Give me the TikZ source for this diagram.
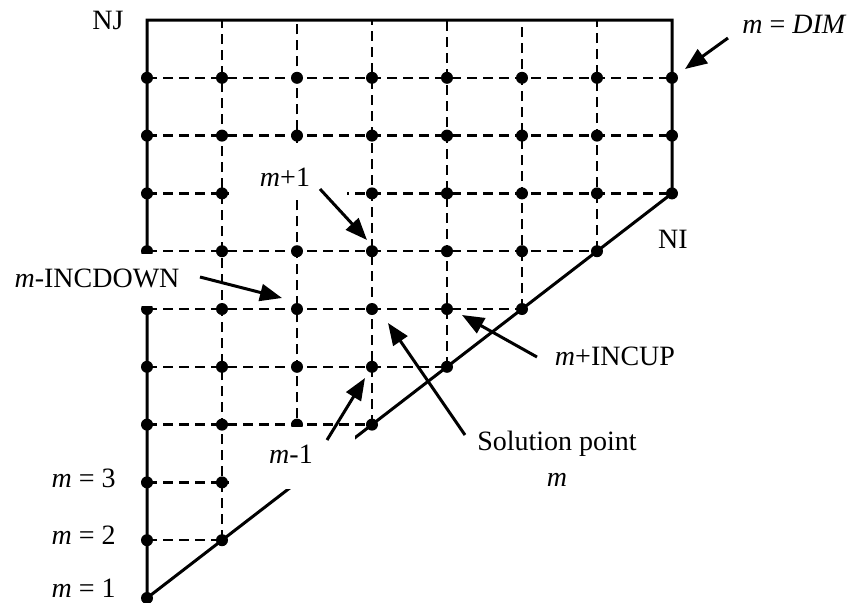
\documentclass[tikz,border=0pt]{standalone}
\usepackage{fontspec}
\setmainfont{Liberation Serif}
\usetikzlibrary{arrows.meta}

\begin{document}
\begin{tikzpicture}[
  x=0.5pt, y=-0.5pt,
  edge/.style={line width=1.5pt},
  gridline/.style={line width=1.2pt,dash pattern=on 5pt off 3pt},
  dot/.style={circle,fill,inner sep=0pt,minimum size=6pt},
  mask/.style={fill=white},
  ar/.style={-{Triangle[length=11pt,width=8.5pt]},line width=1.5pt},
  lbl/.style={font=\fontsize{14}{18}\selectfont,inner sep=1pt},
]
\useasboundingbox (0,0) rectangle (848,602);

% grid points: column i, row j (row 0 at the bottom)
\foreach \i in {0,...,7}
  \foreach \j in {0,...,10}
    \coordinate (g-\i-\j) at ({147+75*\i},{598-57.8*\j});

% dashed grid
\foreach \j in {1,...,9} {
  \pgfmathtruncatemacro{\k}{min(\j,7)}
  \draw[gridline] (g-0-\j) -- (g-\k-\j);
}
\foreach \i in {1,...,6}
  \draw[gridline] (g-\i-\i) -- (g-\i-10);

% boundary
\draw[edge] (g-0-0) -- (g-0-10) -- (g-7-10) -- (g-7-7) -- cycle;

% solution points
\foreach \j in {0,...,9} {
  \pgfmathtruncatemacro{\k}{min(\j,7)}
  \foreach \i in {0,...,\k}
    \node[dot] (d-\i-\j) at (g-\i-\j) {};
}

% white boxes behind the labels
\fill[mask] (229,143) rectangle (347,200);
\fill[mask] (10,254) rectangle (205,306);
\fill[mask] (229,427) rectangle (355,489);

% labels
\node[lbl] (nj) at (108,20) {NJ};
\node[lbl] (ni) at (673,239) {NI};
\node[lbl,anchor=west] (ldim) at (740,24) {\textit{m} = \textit{DIM}};
\node[lbl] (lp1) at (285,177) {\textit{m}+1};
\node[lbl] (lm1) at (291,454) {\textit{m}-1};
\node[lbl] (ldown) at (97,278) {\textit{m}-INCDOWN};
\node[lbl] (lup) at (615,356) {\textit{m}+INCUP};
\node[lbl,align=center] (lsol) at (557,459) {Solution point\\\textit{m}};
\node[lbl,anchor=east] (lm3) at (118,478) {\textit{m} = 3};
\node[lbl,anchor=east] (lm2) at (118,535) {\textit{m} = 2};
\node[lbl,anchor=east] (lm1b) at (118,588) {\textit{m} = 1};

% arrows
\coordinate (t-dim) at (728,38);   \coordinate (h-dim) at (685,69);
\coordinate (t-p1) at (320,189);   \coordinate (h-p1) at (367,240);
\coordinate (t-down) at (200,277); \coordinate (h-down) at (282,298);
\coordinate (t-up) at (537,357);   \coordinate (h-up) at (462,315);
\coordinate (t-sol) at (465,435);  \coordinate (h-sol) at (388,323);
\coordinate (t-m1) at (327,440);   \coordinate (h-m1) at (365,378);

\draw[ar] (t-dim) -- (h-dim);
\draw[ar] (t-p1) -- (h-p1);
\draw[ar] (t-down) -- (h-down);
\draw[ar] (t-up) -- (h-up);
\draw[ar] (t-sol) -- (h-sol);
\draw[ar] (t-m1) -- (h-m1);
\end{tikzpicture}
\end{document}
